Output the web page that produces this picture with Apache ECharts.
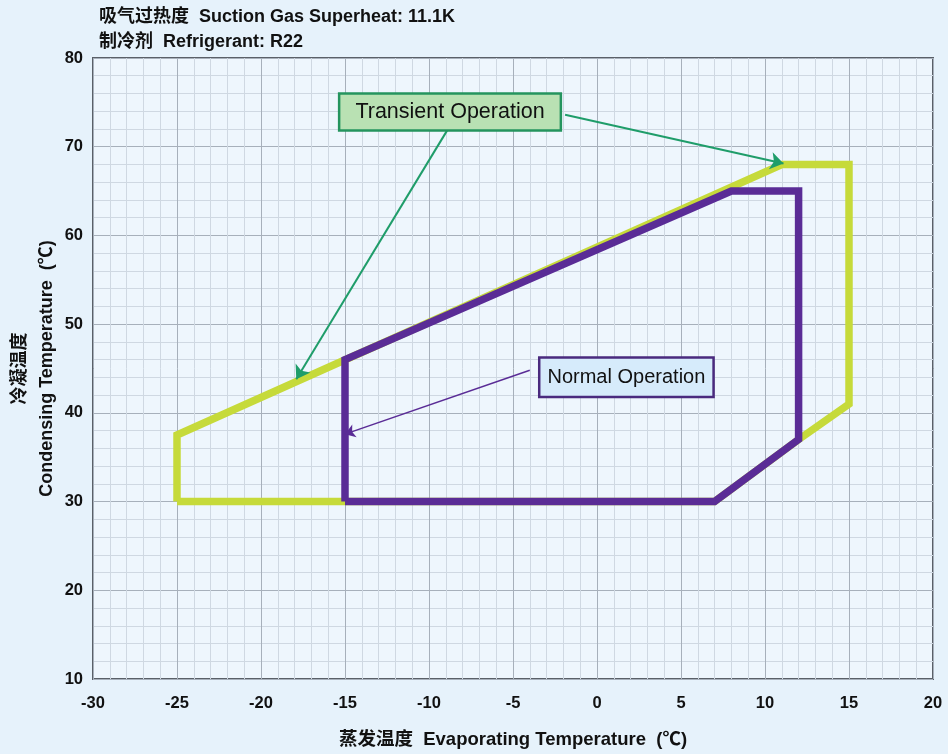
<!DOCTYPE html>
<html><head><meta charset="utf-8">
<script src="https://cdn.jsdelivr.net/npm/echarts@6/dist/echarts.min.js"></script>
<style>html,body{margin:0;padding:0;background:#e6f2fb;}#c{width:948px;height:754px;}</style>
</head><body><div id="c"></div>
<script>
// Envelope vertices (Evaporating °C, Condensing °C)
const transientX = [-25, -25, 11, 15, 15, 12, 7, -25];
const transientY = [30, 37.5, 68, 68, 41, 37, 30, 30];
const normalX = [-15, -15, 8, 12, 12, 7, -15];
const normalY = [30, 46, 65, 65, 37, 30, 30];
// Annotation labels and arrow endpoints
const transientLabel = {text: 'Transient Operation', at: [-8.75, 73.9]};
const transientArrows = [[[-8.9, 71.9], [-17.9, 43.8]], [[-1.9, 73.6], [11.1, 68.1]]];
const normalLabel = {text: 'Normal Operation', at: [1.75, 44.0]};
const normalArrows = [[[-4.0, 44.8], [-15.0, 37.6]]];
const titleLines = ['吸气过热度  Suction Gas Superheat: 11.1K', '制冷剂  Refrigerant: R22'];

const zip = (xs, ys) => xs.map((x, i) => [x, ys[i]]);
const chart = echarts.init(document.getElementById('c'));
const boldFont = '"Liberation Sans", Arial, "Noto Sans CJK SC", sans-serif';
chart.setOption({
  backgroundColor: '#e6f2fb',
  animation: false,
  title: {
    text: titleLines.join('\n'), left: 94, top: 0,
    textStyle: {fontSize: 18, fontWeight: 'bold', color: '#111', lineHeight: 25, fontFamily: boldFont}
  },
  grid: {left: 93, right: 15, top: 58, bottom: 75, show: true, backgroundColor: '#eef6fd', borderColor: '#5a6068', borderWidth: 2, outerBoundsMode: 'none', containLabel: false},
  xAxis: {
    type: 'value', min: -30, max: 20, interval: 5,
    name: '蒸发温度  Evaporating Temperature  (℃)', nameLocation: 'middle', nameGap: 52, nameMoveOverlap: false,
    nameTextStyle: {fontSize: 18.5, fontWeight: 'bold', color: '#111', fontFamily: boldFont},
    axisLine: {show: false}, axisTick: {show: false},
    axisLabel: {fontSize: 16.5, fontWeight: 'bold', color: '#111', margin: 16, fontFamily: boldFont},
    splitLine: {show: true, lineStyle: {color: '#a7b0bb', width: 1}},
    minorTick: {show: false, splitNumber: 5},
    minorSplitLine: {show: true, lineStyle: {color: '#cfd8e2', width: 1}}
  },
  yAxis: {
    type: 'value', min: 10, max: 80, interval: 10,
    name: '冷凝温度\nCondensing Temperature  (℃)', nameLocation: 'middle', nameGap: 32, nameRotate: 90, nameMoveOverlap: false,
    nameTextStyle: {fontSize: 18, fontWeight: 'bold', color: '#111', lineHeight: 27, fontFamily: boldFont},
    axisLine: {show: false}, axisTick: {show: false},
    axisLabel: {fontSize: 16.5, fontWeight: 'bold', color: '#111', margin: 10, fontFamily: boldFont},
    splitLine: {show: true, lineStyle: {color: '#a7b0bb', width: 1}},
    minorTick: {show: false, splitNumber: 5},
    minorSplitLine: {show: true, lineStyle: {color: '#cfd8e2', width: 1}}
  },
  series: [
    {
      type: 'line', name: 'Transient', data: zip(transientX, transientY), symbol: 'none',
      lineStyle: {color: '#c6da3a', width: 7.5, join: 'miter'}, z: 2,
      markLine: {
        silent: true, symbol: ['none', 'arrow'], symbolSize: 13,
        lineStyle: {color: '#1f9d6a', width: 2, type: 'solid'}, label: {show: false},
        data: transientArrows.map(a => [{coord: a[0]}, {coord: a[1]}])
      },
      markPoint: {
        silent: true, symbol: 'rect', symbolSize: 0,
        data: [{coord: transientLabel.at}],
        label: {
          show: true, position: 'inside', formatter: transientLabel.text,
          fontSize: 21.5, color: '#111', fontFamily: boldFont,
          backgroundColor: '#b9e1b3', borderColor: '#24945e', borderWidth: 2.5,
          padding: [7, 15, 6, 15]
        }
      }
    },
    {
      type: 'line', name: 'Normal', data: zip(normalX, normalY), symbol: 'none',
      lineStyle: {color: '#5a2c96', width: 7.5, join: 'miter'}, z: 3,
      markLine: {
        silent: true, symbol: ['none', 'arrow'], symbolSize: 10,
        lineStyle: {color: '#5a2c96', width: 1.5, type: 'solid'}, label: {show: false},
        data: normalArrows.map(a => [{coord: a[0]}, {coord: a[1]}])
      },
      markPoint: {
        silent: true, symbol: 'rect', symbolSize: 0,
        data: [{coord: normalLabel.at}],
        label: {
          show: true, position: 'inside', formatter: normalLabel.text,
          fontSize: 20, color: '#111', fontFamily: boldFont,
          backgroundColor: '#d6ebfb', borderColor: '#4a2a7e', borderWidth: 2.5,
          padding: [9, 7, 8, 7]
        }
      }
    }
  ]
});
</script></body></html>
